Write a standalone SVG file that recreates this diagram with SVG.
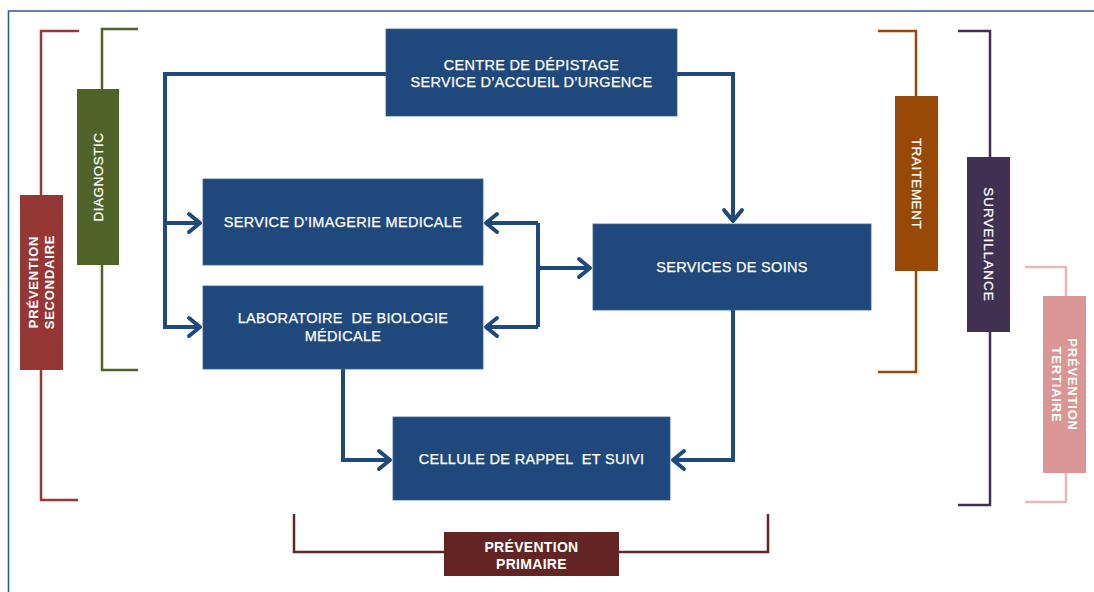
<svg xmlns="http://www.w3.org/2000/svg" width="1094" height="592" viewBox="0 0 1094 592">
  <style>
    .box { fill: #1F497D; stroke: #3E6391; stroke-width: 0.8; }
    .lbl { font-family: "Liberation Sans", Arial, sans-serif; font-size: 14.5px; fill: #FFFFFF; text-anchor: middle; white-space: pre; letter-spacing: 0.3px; stroke: #FFFFFF; stroke-width: 0.25px; }
    .side { font-family: "Liberation Sans", Arial, sans-serif; font-size: 13.5px; fill: #FFFFFF; text-anchor: middle; letter-spacing: 0.5px; stroke: #FFFFFF; stroke-width: 0.25px; }
    .sideb { font-family: "Liberation Sans", Arial, sans-serif; font-size: 13px; font-weight: bold; fill: #FFFFFF; text-anchor: middle; letter-spacing: 0.8px; }
    .link { fill: none; stroke: #1F497D; stroke-width: 4; stroke-linejoin: miter; }
    .brk { fill: none; stroke-width: 2.5; }
  </style>
  <defs>
    <marker id="chev" markerUnits="userSpaceOnUse" viewBox="-16 -14 20 28" refX="0" refY="0" markerWidth="20" markerHeight="28" orient="auto">
      <path d="M-11,-9 L0,0 L-11,9" fill="none" stroke="#1F497D" stroke-width="4" stroke-linecap="round" stroke-linejoin="round"/>
    </marker>
  </defs>

  <rect width="1094" height="592" fill="#FFFFFF"/>
  <!-- frame -->
  <path d="M8.5,600 V11 H1100" fill="none" stroke="#2E5A94" stroke-width="1.6"/>

  <!-- connectors -->
  <g id="connectors">
    <path class="link" d="M386,74 H165 V327 H200" marker-end="url(#chev)"/>
    <path class="link" d="M165,223 H200" marker-end="url(#chev)"/>
    <path class="link" d="M677,74 H733 V221" marker-end="url(#chev)"/>
    <path class="link" d="M538,223 V327"/>
    <path class="link" d="M538,223 H486" marker-end="url(#chev)"/>
    <path class="link" d="M538,327 H486" marker-end="url(#chev)"/>
    <path class="link" d="M536,268 H590" marker-end="url(#chev)"/>
    <path class="link" d="M343,369 V460 H390" marker-end="url(#chev)"/>
    <path class="link" d="M733,310 V460 H673" marker-end="url(#chev)"/>
  </g>

  <!-- main nodes -->
  <g id="depistage">
    <rect class="box" x="386" y="29" width="291" height="87"/>
    <text class="lbl" x="531.5" y="70">CENTRE DE DÉPISTAGE</text>
    <text class="lbl" x="531.5" y="87">SERVICE D’ACCUEIL D’URGENCE</text>
  </g>
  <g id="imagerie">
    <rect class="box" x="203" y="179" width="280" height="86"/>
    <text class="lbl" x="343" y="227">SERVICE D’IMAGERIE MEDICALE</text>
  </g>
  <g id="laboratoire">
    <rect class="box" x="203" y="286" width="280" height="83"/>
    <text class="lbl" x="343" y="323">LABORATOIRE  DE BIOLOGIE</text>
    <text class="lbl" x="343" y="341">MÉDICALE</text>
  </g>
  <g id="soins">
    <rect class="box" x="593" y="224" width="278" height="86"/>
    <text class="lbl" x="732" y="272">SERVICES DE SOINS</text>
  </g>
  <g id="cellule">
    <rect class="box" x="393" y="417" width="277" height="83"/>
    <text class="lbl" x="531.5" y="464">CELLULE DE RAPPEL  ET SUIVI</text>
  </g>

  <!-- phase brackets -->
  <g id="prevention-secondaire">
    <path class="brk" stroke="#953735" d="M79,31 H41 V500 H78"/>
    <rect x="20" y="195" width="43" height="175" fill="#953735"/>
    <g transform="translate(41.5,282) rotate(-90)">
      <text class="sideb" x="0" y="-3.8">PRÉVENTION</text>
      <text class="sideb" x="0" y="12.2">SECONDAIRE</text>
    </g>
  </g>
  <g id="diagnostic">
    <path class="brk" stroke="#4F6228" d="M138,29 H102 V370 H138"/>
    <rect x="77" y="89" width="42" height="176" fill="#4F6228"/>
    <text class="side" transform="translate(98,177) rotate(-90)" x="0" y="5">DIAGNOSTIC</text>
  </g>
  <g id="traitement">
    <path class="brk" stroke="#984807" d="M878,31 H916 V372 H878"/>
    <rect x="895" y="96" width="43" height="175" fill="#984807"/>
    <text class="side" transform="translate(916.5,183.5) rotate(90)" x="0" y="5">TRAITEMENT</text>
  </g>
  <g id="surveillance">
    <path class="brk" stroke="#403152" d="M958,31 H990 V505 H958"/>
    <rect x="967" y="157" width="43" height="175" fill="#403152"/>
    <text class="side" transform="translate(988.5,244.5) rotate(90)" x="0" y="5" style="letter-spacing:1px">SURVEILLANCE</text>
  </g>
  <g id="prevention-tertiaire">
    <path class="brk" stroke="#E6B9B8" d="M1025,267 H1066 V502 H1025"/>
    <rect x="1043" y="296" width="43" height="177" fill="#D99694"/>
    <g transform="translate(1064.5,384.5) rotate(90)">
      <text class="sideb" x="0" y="-3.8">PRÉVENTION</text>
      <text class="sideb" x="0" y="12.2">TERTIAIRE</text>
    </g>
  </g>
  <g id="prevention-primaire">
    <path class="brk" stroke="#632523" d="M294,514 V552 H768 V514"/>
    <rect x="444" y="532" width="175" height="44" fill="#632523"/>
    <text class="sideb" x="531.5" y="552" style="font-size:14px;letter-spacing:0.3px">PRÉVENTION</text>
    <text class="sideb" x="531.5" y="569" style="font-size:14px;letter-spacing:0.3px">PRIMAIRE</text>
  </g>
</svg>
